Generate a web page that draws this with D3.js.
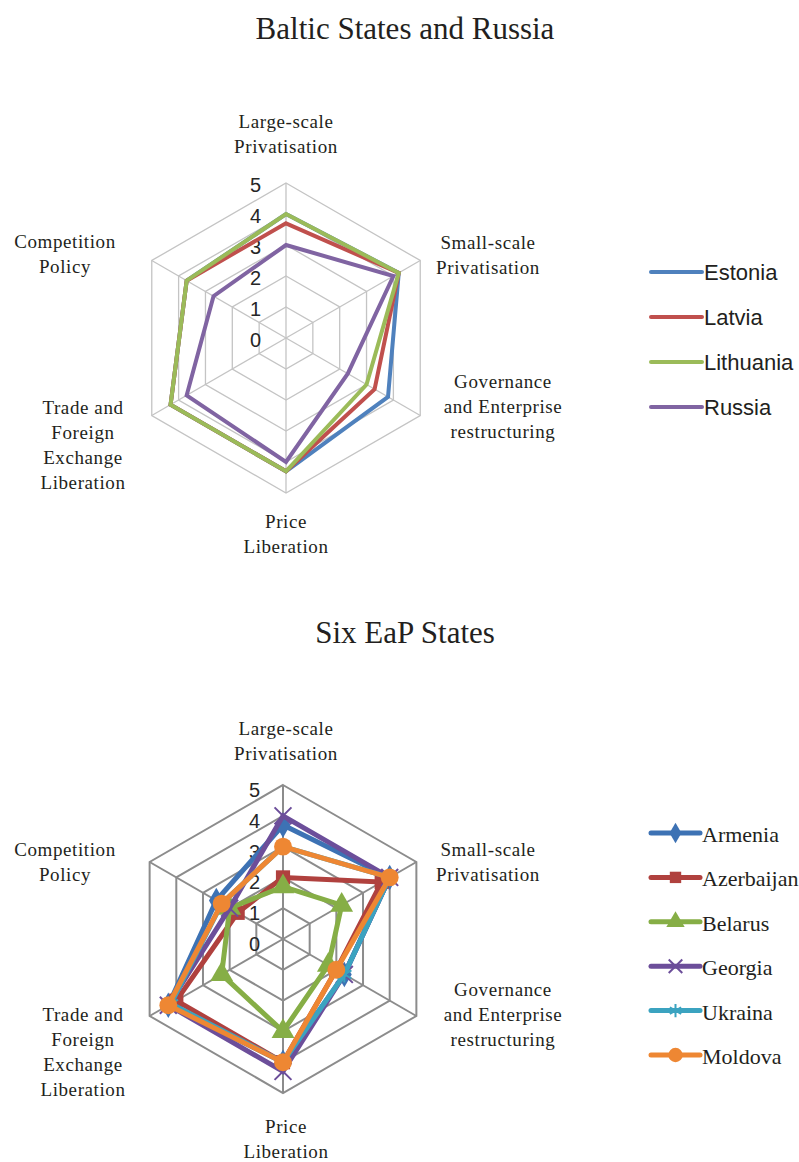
<!DOCTYPE html>
<html><head><meta charset="utf-8">
<script src="https://cdn.jsdelivr.net/npm/d3@7"></script>
<style>body{margin:0;background:#fff}svg{display:block}</style>
</head><body>
<svg id="c" width="799" height="1162"></svg>
<script>
// ---------- DATA ----------
const axisLabels = [
  ["Large-scale", "Privatisation"],
  ["Small-scale", "Privatisation"],
  ["Governance", "and Enterprise", "restructuring"],
  ["Price", "Liberation"],
  ["Trade and", "Foreign", "Exchange", "Liberation"],
  ["Competition", "Policy"]
];
const scaleTicks = [0, 1, 2, 3, 4, 5];

const balticTitle = "Baltic States and Russia";
const balticCountries = ["Estonia", "Latvia", "Lithuania", "Russia"];
const estonia   = [4.0, 4.2, 3.8, 4.3, 4.3, 3.7];
const latvia    = [3.7, 4.2, 3.3, 4.3, 4.3, 3.7];
const lithuania = [4.0, 4.2, 3.0, 4.3, 4.3, 3.7];
const russia    = [3.0, 4.0, 2.3, 4.0, 3.7, 2.7];

const eapTitle = "Six EaP States";
const eapCountries = ["Armenia", "Azerbaijan", "Belarus", "Georgia", "Ukraina", "Moldova"];
const armenia    = [3.7, 4.0, 2.3, 4.0, 4.3, 2.5];
const azerbaijan = [2.0, 3.7, 2.0, 4.0, 4.0, 1.7];
const belarus    = [1.7, 2.2, 1.7, 3.0, 2.3, 2.0];
const georgia    = [4.0, 4.0, 2.3, 4.3, 4.3, 2.0];
const ukraina    = [3.0, 4.0, 2.3, 4.0, 4.2, 2.3];
const moldova    = [3.0, 4.0, 2.0, 4.0, 4.3, 2.3];

// ---------- STYLE / LAYOUT ----------
const balticColors = ["#4F81BD", "#C0504D", "#9BBB59", "#8064A2"];
const eapColors = ["#3D72B4", "#B0413E", "#86AE46", "#6C4E9A", "#3BA3C0", "#EE8733"];
const eapSymbols = [d3.symbolDiamond, d3.symbolSquare, d3.symbolTriangle, d3.symbolTimes, d3.symbolAsterisk, d3.symbolCircle];

const svg = d3.select("#c");
const serif = "'Liberation Serif','Times New Roman',serif";
const sans = "'Liberation Sans',Arial,sans-serif";

function drawRadar(cfg) {
  const g = svg.append("g");
  const r = d3.scaleLinear().domain([0, 5]).range([0, cfg.R]);
  const n = axisLabels.length;
  const ang = d3.scaleLinear().domain([0, n]).range([0, 2 * Math.PI]);
  const px = (i, v) => cfg.cx + r(v) * Math.sin(ang(i));
  const py = (i, v) => cfg.cy - r(v) * Math.cos(ang(i));

  // title
  g.append("text").attr("x", cfg.titleX).attr("y", cfg.titleY)
    .attr("text-anchor", "middle").attr("font-family", serif)
    .attr("font-size", 31).attr("fill", "#231f20").text(cfg.title);

  // grid rings
  const ring = d3.lineRadial().angle((d, i) => ang(i)).radius(d => r(d)).curve(d3.curveLinearClosed);
  scaleTicks.filter(t => t > 0).forEach(t => {
    g.append("path").attr("transform", `translate(${cfg.cx},${cfg.cy})`)
      .attr("d", ring(d3.range(n).map(() => t)))
      .attr("fill", "none").attr("stroke", cfg.gridColor).attr("stroke-width", cfg.gridWidth);
  });
  // spokes
  d3.range(n).forEach(i => {
    g.append("line").attr("x1", cfg.cx).attr("y1", cfg.cy)
      .attr("x2", px(i, 5)).attr("y2", py(i, 5))
      .attr("stroke", cfg.gridColor).attr("stroke-width", cfg.gridWidth);
  });
  // tick labels
  scaleTicks.forEach(t => {
    g.append("text").attr("x", cfg.cx - cfg.tickDx).attr("y", py(0, t) + cfg.tickDy)
      .attr("text-anchor", "end").attr("font-family", sans).attr("font-size", 20)
      .attr("fill", "#262626").text(t);
  });
  // axis labels
  axisLabels.forEach((lines, i) => {
    const [ox, oy] = cfg.labelOffsets[i];
    const t = g.append("text").attr("text-anchor", "middle").attr("font-family", serif)
      .attr("font-size", 19).attr("letter-spacing", 0.6).attr("fill", "#231f20");
    lines.forEach((ln, k) => {
      t.append("tspan").attr("x", cfg.cx + ox).attr("y", cfg.cy + oy + k * 25).text(ln);
    });
  });
  // series
  cfg.series.forEach((vals, s) => {
    g.append("path").attr("transform", `translate(${cfg.cx},${cfg.cy})`)
      .attr("d", ring(vals)).attr("fill", "none")
      .attr("stroke", cfg.colors[s]).attr("stroke-width", cfg.lineWidth)
      .attr("stroke-linejoin", "miter");
    if (cfg.symbols) {
      vals.forEach((v, i) => drawSymbol(g, cfg.symbols[s], cfg.colors[s], px(i, v), py(i, v), 1.12));
    }
  });
  // legend
  cfg.names.forEach((nm, s) => {
    const y = cfg.legend.y0 + s * cfg.legend.dy;
    g.append("line").attr("x1", cfg.legend.x).attr("x2", cfg.legend.x + cfg.legend.w)
      .attr("y1", y).attr("y2", y).attr("stroke", cfg.colors[s])
      .attr("stroke-width", cfg.lineWidth).attr("stroke-linecap", "round");
    if (cfg.symbols) drawSymbol(g, cfg.symbols[s], cfg.colors[s], cfg.legend.x + cfg.legend.w / 2, y, 0.9);
    g.append("text").attr("x", cfg.legend.x + cfg.legend.w + 2).attr("y", y + cfg.legend.textDy)
      .attr("font-family", cfg.legend.font).attr("font-size", cfg.legend.size).attr("fill", "#231f20").text(nm);
  });
}

function drawSymbol(g, type, color, x, y, k) {
  const stroke = (type === d3.symbolTimes || type === d3.symbolAsterisk);
  const sz = type === d3.symbolCircle ? 200 : type === d3.symbolTriangle ? 180 : type === d3.symbolSquare ? 160 : type === d3.symbolDiamond ? 150 : 150;
  g.append("path").attr("transform", `translate(${x},${y})`)
    .attr("d", d3.symbol().type(type).size(sz * k * k)())
    .attr("fill", stroke ? "none" : color)
    .attr("stroke", color).attr("stroke-width", stroke ? 2 : 0);
}

drawRadar({
  title: balticTitle, titleX: 405, titleY: 39,
  cx: 286, cy: 338, R: 155,
  gridColor: "#c4c4c4", gridWidth: 1.3, lineWidth: 4,
  tickDx: 25, tickDy: 9,
  labelOffsets: [[0, -210], [202, -89], [217, 50], [0, 190], [-203, 76], [-221, -90]],
  series: [estonia, latvia, lithuania, russia],
  names: balticCountries, colors: balticColors,
  legend: { x: 651, y0: 272, dy: 45, w: 51, textDy: 8, font: sans, size: 22 }
});

drawRadar({
  title: eapTitle, titleX: 405, titleY: 643,
  cx: 283, cy: 939, R: 154,
  gridColor: "#8c8c8c", gridWidth: 2, lineWidth: 5,
  tickDx: 23, tickDy: 12,
  labelOffsets: [[3, -204], [205, -83], [220, 57], [3, 194], [-200, 82], [-218, -83]],
  series: [armenia, azerbaijan, belarus, georgia, ukraina, moldova],
  names: eapCountries, colors: eapColors, symbols: eapSymbols,
  legend: { x: 651, y0: 833, dy: 44.4, w: 49, textDy: 9, font: serif, size: 22 }
});
</script>
</body></html>
